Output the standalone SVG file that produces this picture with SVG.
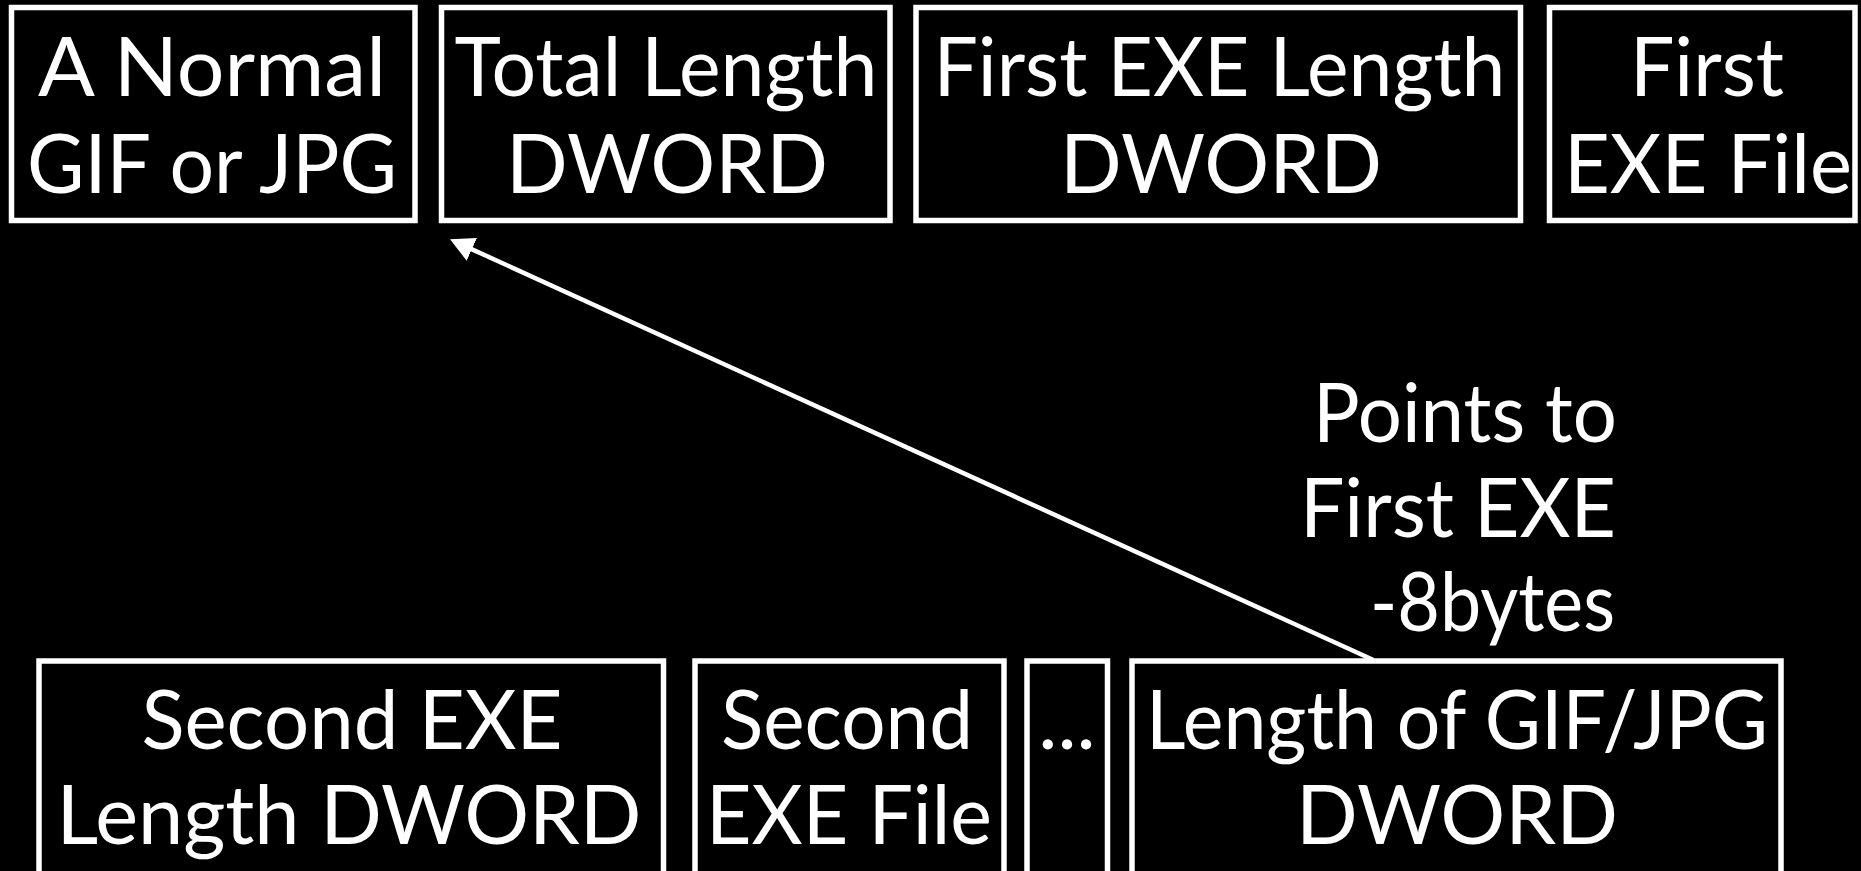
<svg xmlns="http://www.w3.org/2000/svg" width="1861" height="871" viewBox="0 0 1861 871">
  <style>
    .box { fill: #000; stroke: #fff; stroke-width: 5.5; }
    .lbl { fill: #fff; font-family: Lato, "Open Sans", "Liberation Sans", sans-serif; font-size: 81px; text-anchor: middle; }
    .note { fill: #fff; font-family: Lato, "Open Sans", "Liberation Sans", sans-serif; font-size: 81px; text-anchor: end; }
    .link { stroke: #fff; stroke-width: 4.5; fill: none; }
  </style>
  <defs>
    <marker id="arrowhead" markerUnits="userSpaceOnUse" markerWidth="26" markerHeight="27" refX="4" refY="12.5" orient="auto" viewBox="0 0 26 27">
      <path d="M0,0 L24,12.5 L0,25 Z" fill="#fff"/>
    </marker>
  </defs>
  <rect x="0" y="0" width="1861" height="871" fill="#000"/>

  <!-- top row: image header and first payload -->
  <g id="gif-jpg">
    <rect class="box" x="11.5" y="7.5" width="403.5" height="213"/>
    <text class="lbl" x="212" y="95.5" textLength="348" lengthAdjust="spacingAndGlyphs">A Normal</text>
    <text class="lbl" x="212" y="192.5" textLength="370" lengthAdjust="spacingAndGlyphs">GIF or JPG</text>
  </g>
  <g id="total-length">
    <rect class="box" x="441.5" y="7.5" width="448.5" height="213"/>
    <text class="lbl" x="666" y="95.5" textLength="423" lengthAdjust="spacingAndGlyphs">Total Length</text>
    <text class="lbl" x="667" y="192.5" textLength="322" lengthAdjust="spacingAndGlyphs">DWORD</text>
  </g>
  <g id="first-exe-length">
    <rect class="box" x="916" y="7.5" width="604.5" height="213"/>
    <text class="lbl" x="1219.5" y="95.5" textLength="572" lengthAdjust="spacingAndGlyphs">First EXE Length</text>
    <text class="lbl" x="1221" y="192.5" textLength="322" lengthAdjust="spacingAndGlyphs">DWORD</text>
  </g>
  <g id="first-exe-file">
    <rect class="box" x="1549.5" y="7.5" width="305.5" height="213"/>
    <text class="lbl" x="1707" y="95.5" textLength="154" lengthAdjust="spacingAndGlyphs">First</text>
    <text class="lbl" x="1708" y="192.5" textLength="288" lengthAdjust="spacingAndGlyphs">EXE File</text>
  </g>

  <!-- bottom row: further payloads and trailer -->
  <g id="second-exe-length">
    <rect class="box" x="39" y="661" width="624.5" height="260"/>
    <text class="lbl" x="352" y="749" textLength="421" lengthAdjust="spacingAndGlyphs">Second EXE</text>
    <text class="lbl" x="349" y="843.5" textLength="585" lengthAdjust="spacingAndGlyphs">Length DWORD</text>
  </g>
  <g id="second-exe-file">
    <rect class="box" x="695" y="661" width="309" height="260"/>
    <text class="lbl" x="847" y="749" textLength="252" lengthAdjust="spacingAndGlyphs">Second</text>
    <text class="lbl" x="849" y="843.5" textLength="286" lengthAdjust="spacingAndGlyphs">EXE File</text>
  </g>
  <g id="more">
    <rect class="box" x="1027" y="661" width="80.5" height="260"/>
    <text class="lbl" x="1067" y="749">...</text>
  </g>
  <g id="gif-jpg-length">
    <rect class="box" x="1132" y="661" width="649" height="260"/>
    <text class="lbl" x="1457" y="749" textLength="622" lengthAdjust="spacingAndGlyphs">Length of GIF/JPG</text>
    <text class="lbl" x="1457" y="843.5" textLength="322" lengthAdjust="spacingAndGlyphs">DWORD</text>
  </g>

  <!-- pointer from the trailer back to the start of the first payload -->
  <g id="connectors">
    <line class="link" x1="1373.4" y1="660" x2="468.2" y2="247.6" marker-end="url(#arrowhead)"/>
    <text class="note" x="1617" y="441.7" textLength="304" lengthAdjust="spacingAndGlyphs">Points to</text>
    <text class="note" x="1616" y="536.7" textLength="316" lengthAdjust="spacingAndGlyphs">First EXE</text>
    <text class="note" x="1615" y="631" textLength="245" lengthAdjust="spacingAndGlyphs">-8bytes</text>
  </g>
</svg>
